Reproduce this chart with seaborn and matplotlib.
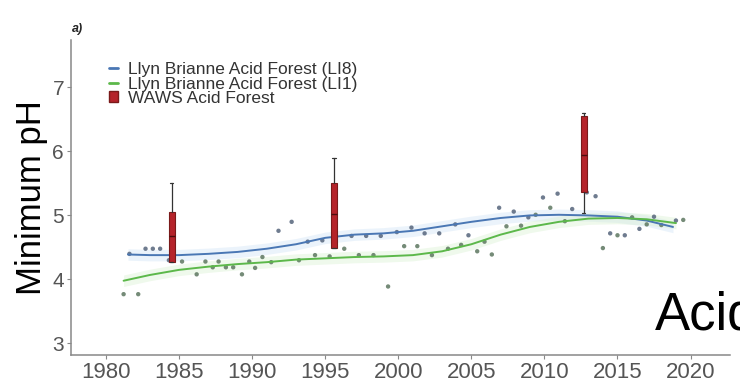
import numpy as np
import pandas as pd
import matplotlib
matplotlib.use("Agg")
import matplotlib.pyplot as plt
import seaborn as sns
from matplotlib.lines import Line2D
from matplotlib.patches import Patch

# ---------------- data ----------------
li8_years = [1981.6, 1982.7, 1983.2, 1983.7, 1984.3, 1991.8, 1992.7, 1993.8, 1994.8,
             1996.8, 1997.8, 1998.8, 1999.9, 2000.9, 2001.8, 2002.8, 2003.9, 2004.8,
             2006.9, 2007.9, 2008.9, 2009.9, 2010.9, 2011.9, 2012.9, 2013.5, 2014.5,
             2015.5, 2016.5, 2017.5, 2019.0]
li8_ph = [4.40, 4.48, 4.48, 4.48, 4.30, 4.76, 4.90, 4.59, 4.61,
          4.68, 4.68, 4.68, 4.74, 4.81, 4.72, 4.72, 4.86, 4.69,
          5.12, 5.06, 4.97, 5.28, 5.34, 5.10, 5.36, 5.30, 4.72,
          4.69, 4.79, 4.98, 4.92]

li1_years = [1981.2, 1982.2, 1985.2, 1986.2, 1986.8, 1987.3, 1987.7, 1988.2, 1988.7,
             1989.3, 1989.8, 1990.2, 1990.7, 1991.3, 1993.2, 1994.3, 1995.3, 1996.3,
             1997.3, 1998.3, 1999.3, 2000.4, 2001.3, 2002.3, 2003.4, 2004.3, 2005.4,
             2005.9, 2006.4, 2007.4, 2008.4, 2009.4, 2010.4, 2011.4, 2014.0, 2015.0,
             2016.0, 2017.0, 2018.0, 2019.5]
li1_ph = [3.77, 3.77, 4.28, 4.08, 4.28, 4.19, 4.28, 4.19, 4.19,
          4.08, 4.28, 4.18, 4.35, 4.27, 4.30, 4.38, 4.36, 4.48,
          4.38, 4.38, 3.89, 4.52, 4.52, 4.38, 4.48, 4.54, 4.44,
          4.59, 4.39, 4.83, 4.84, 5.01, 5.12, 4.91, 4.49, 4.69,
          4.97, 4.86, 4.85, 4.93]

li8_smooth_years = [1981.5, 1983, 1985, 1987, 1989, 1991, 1993, 1995, 1997, 1999,
                    2001, 2003, 2005, 2007, 2009, 2011, 2013, 2015, 2017, 2018.8]
li8_smooth_ph = [4.39, 4.38, 4.38, 4.40, 4.43, 4.48, 4.55, 4.65, 4.70, 4.72,
                 4.76, 4.83, 4.90, 4.96, 5.00, 5.01, 5.00, 4.98, 4.92, 4.82]

li1_smooth_years = [1981.2, 1983, 1985, 1987, 1989, 1991, 1993, 1995, 1997, 1999,
                    2001, 2003, 2005, 2007, 2009, 2011, 2013, 2015, 2017, 2019.0]
li1_smooth_ph = [3.98, 4.07, 4.15, 4.20, 4.24, 4.27, 4.31, 4.33, 4.35, 4.36,
                 4.38, 4.44, 4.55, 4.70, 4.82, 4.90, 4.95, 4.96, 4.94, 4.88]

waws_years = [1984.5, 1995.6, 2012.7]
waws_whislo = [4.27, 4.49, 5.04]
waws_q1 = [4.27, 4.49, 5.36]
waws_med = [4.68, 5.03, 5.94]
waws_q3 = [5.06, 5.50, 6.55]
waws_whishi = [5.50, 5.90, 6.60]

legend_labels = ["Llyn Brianne Acid Forest (LI8)",
                 "Llyn Brianne Acid Forest (LI1)",
                 "WAWS Acid Forest"]
x_ticks = [1980, 1985, 1990, 1995, 2000, 2005, 2010, 2015, 2020]
y_ticks = [3, 4, 5, 6, 7]

# ---------------- styling ----------------
sns.set_style("white")
plt.rcParams["font.family"] = ["Liberation Sans", "DejaVu Sans"]

blue = "#4a77b4"
green = "#5cb84a"
red = "#b5232a"

fig = plt.figure(figsize=(7.4, 3.89), dpi=100)
ax = fig.add_axes([71/740, 1 - 355/389, (730 - 71)/740, (355 - 40)/389])

# confidence bands (faint)
ax.fill_between(li8_smooth_years, np.array(li8_smooth_ph) - 0.09,
                np.array(li8_smooth_ph) + 0.09, color="#cfe3f5", alpha=0.4, lw=0)
ax.fill_between(li1_smooth_years, np.array(li1_smooth_ph) - 0.09,
                np.array(li1_smooth_ph) + 0.09, color="#d8f0d0", alpha=0.4, lw=0)

df8 = pd.DataFrame({"year": li8_years, "ph": li8_ph})
df1 = pd.DataFrame({"year": li1_years, "ph": li1_ph})
sns.scatterplot(data=df8, x="year", y="ph", ax=ax, s=10, color="#56657c",
                edgecolor="none", alpha=0.85, legend=False)
sns.scatterplot(data=df1, x="year", y="ph", ax=ax, s=10, color="#5d7760",
                edgecolor="none", alpha=0.85, legend=False)

ds8 = pd.DataFrame({"year": li8_smooth_years, "ph": li8_smooth_ph})
ds1 = pd.DataFrame({"year": li1_smooth_years, "ph": li1_smooth_ph})
sns.lineplot(data=ds8, x="year", y="ph", ax=ax, color=blue, lw=1.4, legend=False)
sns.lineplot(data=ds1, x="year", y="ph", ax=ax, color=green, lw=1.4, legend=False)

stats = []
for i in range(len(waws_years)):
    stats.append(dict(whislo=waws_whislo[i], q1=waws_q1[i], med=waws_med[i],
                      q3=waws_q3[i], whishi=waws_whishi[i], fliers=[]))
ax.bxp(stats, positions=waws_years, widths=0.45, patch_artist=True,
       showfliers=False, manage_ticks=False, capwidths=0.22,
       boxprops=dict(facecolor=red, edgecolor="#7a1a1a", lw=0.8),
       medianprops=dict(color="#4a0c0c", lw=1.0),
       whiskerprops=dict(color="#333333", lw=0.9),
       capprops=dict(color="#333333", lw=0.9))

ax.set_xlim(1977.6, 2022.7)
ax.set_ylim(2.82, 7.74)
ax.set_xticks(x_ticks)
ax.set_yticks(y_ticks)
ax.set_xlabel("")
ax.set_ylabel("Minimum pH", fontsize=25, color="black", labelpad=3)

for s in ["top", "right"]:
    ax.spines[s].set_visible(False)
for s in ["left", "bottom"]:
    ax.spines[s].set_color("#888888")
    ax.spines[s].set_linewidth(1.1)
ax.tick_params(axis="both", which="major", length=3, width=0.8, color="#888888",
               labelcolor="#555555", pad=2, left=True, bottom=True)
ax.tick_params(axis="x", labelsize=16)
ax.tick_params(axis="y", labelsize=15)

handles = [Line2D([0], [0], color=blue, lw=2),
           Line2D([0], [0], color=green, lw=2),
           Patch(facecolor=red, edgecolor="#7a1a1a")]
ax.legend(handles, legend_labels, loc="upper left", bbox_to_anchor=(0.058, 0.93),
          frameon=False, fontsize=12.5, handlelength=0.5, handleheight=0.6,
          handletextpad=0.6, labelspacing=-0.03, borderpad=0, borderaxespad=0,
          labelcolor="#333333")

fig.text(78/740, 1 - 29/389, "a)", fontsize=9, fontweight="bold",
         fontstyle="italic", ha="center", va="center")
fig.text(655/740, 1 - 330/389, "Acid", fontsize=38, ha="left", va="baseline",
         color="black")

fig.savefig("out.png", dpi=100)
